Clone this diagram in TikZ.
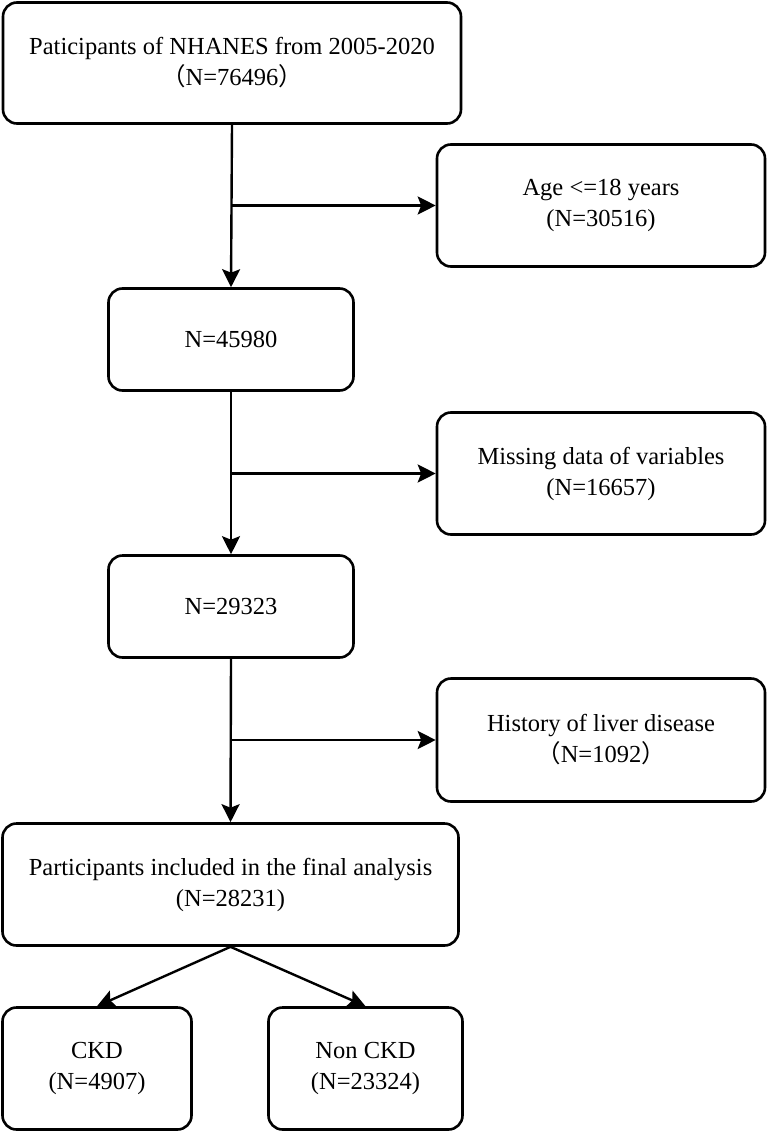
\documentclass[tikz,border=0pt]{standalone}
\usepackage{fontspec}
\setmainfont{Liberation Serif}
\newfontfamily\cjk{Noto Sans CJK SC}
\usetikzlibrary{arrows.meta}
\newcommand{\fwl}{{\cjk （}}
\newcommand{\fwr}{{\cjk ）}}
\begin{document}
\begin{tikzpicture}[x=1pt,y=-1pt,
  box/.style={draw=black, line width=2.6pt, rounded corners=14pt, align=center,
    inner sep=0pt, font=\fontsize{24.5}{31}\selectfont},
  conn/.style={line width=2.4pt, -{Stealth[length=18pt,width=18pt,inset=3.5pt]}}]
\useasboundingbox (0,0) rectangle (767,1132);
\node[box, minimum width=458pt, minimum height=121pt] (b1) at (232,63)
  {Paticipants of NHANES from 2005-2020\\\fwl N=76496\fwr};
\node[box, minimum width=328pt, minimum height=122pt] (b2) at (601,205.5)
  {Age \textless=18 years\\(N=30516)};
\node[box, minimum width=245pt, minimum height=102pt] (b3) at (231,339.5)
  {N=45980};
\node[box, minimum width=328pt, minimum height=122pt] (b4) at (601,473.5)
  {Missing data of variables\\(N=16657)};
\node[box, minimum width=245pt, minimum height=102pt] (b5) at (231,606.5)
  {N=29323};
\node[box, minimum width=328pt, minimum height=123pt] (b6) at (601,740)
  {History of liver disease\\\fwl N=1092\fwr};
\node[box, minimum width=456pt, minimum height=122pt] (b7) at (230.5,884.5)
  {Participants included in the final analysis\\(N=28231)};
\node[box, minimum width=189pt, minimum height=122pt] (b8) at (97,1068.5)
  {CKD\\(N=4907)};
\node[box, minimum width=194pt, minimum height=122pt] (b9) at (365.5,1068.5)
  {Non CKD\\(N=23324)};
\coordinate (c1) at (b1.south |- b2.west);
\coordinate (c2) at (b3.south |- b4.west);
\coordinate (c3) at (b5.south |- b6.west);
\draw[conn] (b1.south) -- (b3.north);
\draw[conn] (c1) -- (b2.west);
\draw[conn] (b3.south) -- (b5.north);
\draw[conn] (c2) -- (b4.west);
\draw[conn] (b5.south) -- (b7.north);
\draw[conn] (c3) -- (b6.west);
\draw[conn] (b7.south) -- (b8.north);
\draw[conn] (b7.south) -- (b9.north);
\end{tikzpicture}
\end{document}
